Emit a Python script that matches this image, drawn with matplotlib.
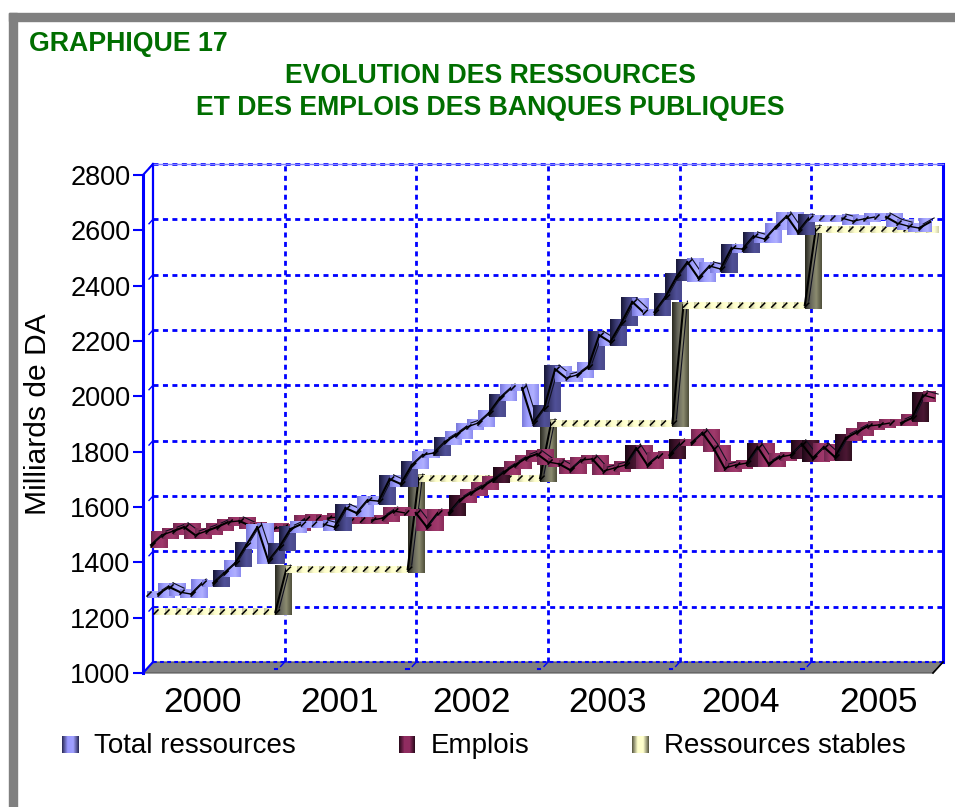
import numpy as np
import matplotlib
matplotlib.use("Agg")
import matplotlib.pyplot as plt
from matplotlib.colors import LinearSegmentedColormap
from matplotlib.patches import Polygon, Rectangle

plt.rcParams['font.family'] = ['Liberation Sans', 'DejaVu Sans']

# monthly values, Milliards de DA, 2000-2005
total_ressources = [
    1278, 1278, 1304, 1285, 1278, 1318, 1318, 1354, 1390, 1455, 1520, 1398,
    1448, 1513, 1531, 1531, 1531, 1520, 1589, 1571, 1618, 1614, 1694, 1676,
    1744, 1781, 1788, 1828, 1853, 1882, 1896, 1932, 1987, 2023, 2023, 1896,
    1950, 2091, 2059, 2070, 2099, 2214, 2189, 2258, 2334, 2297, 2297, 2352,
    2424, 2478, 2420, 2464, 2453, 2529, 2525, 2572, 2561, 2605, 2644, 2587,
    2637, 2637, 2637, 2637, 2626, 2634, 2641, 2641, 2619, 2608, 2601, 2623]
emplois = [
    1441, 1477, 1491, 1506, 1477, 1491, 1506, 1524, 1528, 1510, 1502, 1499,
    1506, 1506, 1535, 1538, 1538, 1542, 1528, 1531, 1531, 1538, 1564, 1557,
    1557, 1506, 1557, 1557, 1604, 1629, 1651, 1676, 1705, 1730, 1755, 1770,
    1741, 1734, 1712, 1748, 1752, 1708, 1719, 1730, 1791, 1730, 1763, 1766,
    1810, 1810, 1846, 1791, 1719, 1730, 1737, 1795, 1734, 1759, 1766, 1806,
    1755, 1795, 1759, 1828, 1849, 1871, 1875, 1882, 1882, 1900, 1983, 1972]
ressources_stables = [1188] * 12 + [1343] * 12 + [1672] * 12 + [1871] * 12 + [2297] * 12 + [2572] * 12

annees = ['2000', '2001', '2002', '2003', '2004', '2005']
yticks = [1000, 1200, 1400, 1600, 1800, 2000, 2200, 2400, 2600, 2800]

# segments drawn in the dark shade
dark_total = [6, 8, 11, 12, 17, 21, 23, 26, 31, 35, 36, 40, 42, 43, 46, 47, 48, 52, 54, 59]
dark_emplois = [27, 31, 43, 47, 54, 58, 59, 62, 69]
dark_stables = [11, 23, 35, 47, 59]

BLUE = '#0000ff'
GREEN = '#006e00'
W, H = 955, 807
PX_X = 1 / 11.03   # months per pixel
PX_Y = 3.614       # DA per pixel
DASH = (0, (1.8, 1.6))


def cmap(*cols):
    return LinearSegmentedColormap.from_list('c', cols)


def ribbon(ax, values, dark, dx, dy, light_map, dark_map, z):
    xs = np.arange(len(values)) + dx * PX_X
    ys = np.array(values) + dy * PX_Y
    grad = np.linspace(0, 1, 32).reshape(1, -1)
    n = len(values) - 1
    for i in range(n):
        x0, x1 = xs[i], xs[i + 1]
        y0, y1 = ys[i], ys[i + 1]
        lo, hi = min(y0, y1) - 3.5 * PX_Y, max(y0, y1) + 3.5 * PX_Y
        cm = dark_map if i in dark else light_map
        width = 13 if i == n - 1 else 16.5
        ax.imshow(grad, extent=[x0, x0 + width * PX_X, lo, hi], cmap=cm, aspect='auto',
                  interpolation='bilinear', clip_on=False, zorder=z + i * 0.001)
        zl = z + i * 0.001 + 0.0005
        jump = abs(y1 - y0) / PX_Y
        if jump > 1:
            ax.plot([x0, x1], [y0, y1], color='black', lw=1.5 if jump > 4 else 1, clip_on=False, zorder=zl)
        if jump > 3:
            ax.plot([x0 + 4 * PX_X, x1 + 4 * PX_X], [y0 + 4 * PX_Y, y1 + 4 * PX_Y],
                    color='#101020', lw=0.8, clip_on=False, zorder=zl)
        ax.plot([x0, x0 + 4 * PX_X], [y0 - 2 * PX_Y, y0 + 2 * PX_Y],
                color='black', lw=1.1, clip_on=False, zorder=zl)


fig = plt.figure(figsize=(W / 100, H / 100), dpi=100)
ax = fig.add_axes([143 / W, 1 - 673 / H, 790 / W, 498 / H])
xlim = (-0.363, 71.26)
ylim = (1000, 2800)

# page border
fig.add_artist(Rectangle((9 / W, 0), 8 / W, 1 - 13 / H, color='#808080', transform=fig.transFigure))
fig.add_artist(Rectangle((9 / W, 1 - 21 / H), 946 / W, 8 / H, color='#808080', transform=fig.transFigure))

# depth of the 3D box, 10 px right and 11 px up
bx, by = 10 * PX_X, 11 * PX_Y
ax.add_patch(Polygon([(xlim[0], 1000), (xlim[1], 1000), (xlim[1] + bx, 1000 + by), (xlim[0] + bx, 1000 + by)],
                     closed=True, facecolor='#808080', edgecolor='#555555', lw=0.8, clip_on=False, zorder=1))
for v in yticks[1:]:
    ax.plot([xlim[0] + bx, xlim[1] + bx], [v + by, v + by], color=BLUE, lw=2, ls=DASH,
            clip_on=False, zorder=1.5)
    ax.plot([xlim[0] + bx * 0.6, xlim[0] + bx], [v + by * 0.6, v + by], color=BLUE, lw=1, clip_on=False, zorder=1.5)
for k in range(1, 6):
    xk = xlim[0] + 12 * k * (xlim[1] - xlim[0]) / 72
    ax.plot([xk + bx, xk + bx], [1000 + by, 2800 + by], color=BLUE, lw=2, ls=DASH,
            clip_on=False, zorder=1.5)
    ax.plot([xk + bx * 0.6, xk + bx], [1000 + by * 0.6, 1000 + by], color=BLUE, lw=1, clip_on=False, zorder=1.5)
    ax.plot([xk, xk + bx * 0.25], [1000 + by * 0.4, 1000 + by * 0.4], color=BLUE, lw=1.5, clip_on=False, zorder=1.5)
ax.plot([xlim[0] + bx, xlim[1] + bx], [1000 + by, 1000 + by], color=BLUE, lw=1.5, ls=DASH,
        clip_on=False, zorder=1.6)
ax.plot([xlim[0] + bx, xlim[0] + bx], [1000 + by, 2800 + by], color=BLUE, lw=1.6, clip_on=False, zorder=1.6)
ax.plot([xlim[1] + bx, xlim[1] + bx], [1000 + by, 2800 + by], color=BLUE, lw=2.2, clip_on=False, zorder=1.6)
ax.plot([xlim[0] + bx, xlim[1] + bx], [2800 + by, 2800 + by], color='#8080ff', lw=1, clip_on=False, zorder=1.6)
ax.plot([xlim[0], xlim[0] + bx], [2800, 2800 + by], color=BLUE, lw=1.5, clip_on=False, zorder=1.6)
ax.plot([xlim[0], xlim[0] + bx], [1000, 1000 + by], color=BLUE, lw=1.5, clip_on=False, zorder=1.6)
ax.plot([xlim[1], xlim[1] + bx], [1000, 1000 + by], color='black', lw=1.2, clip_on=False, zorder=1.6)

blue_light = cmap('#7878d8', '#a0a0ff', '#b0b0ff', '#8c8cf0')
blue_dark = cmap('#181838', '#383870', '#505098', '#4a4a8c')
red_light = cmap('#702850', '#993366', '#a03a6c', '#8a2c5a')
red_dark = cmap('#1c0814', '#3a1028', '#4c1834', '#30101f')
yel_light = cmap('#c8c8a0', '#ffffcc', '#ffffd8', '#d0d0a8')
yel_dark = cmap('#2a2a20', '#66665a', '#8c8c70', '#50503c')

ribbon(ax, ressources_stables, dark_stables, 7, 9, yel_light, yel_dark, 2)
ribbon(ax, emplois, dark_emplois, 4, 6, red_light, red_dark, 3)
ribbon(ax, total_ressources, dark_total, 0, 2, blue_light, blue_dark, 4)

ax.set_xlim(xlim)
ax.set_ylim(ylim)
ax.set_yticks(yticks)
ax.set_xticks([5.04, 17.44, 29.44, 41.74, 53.84, 66.34])
ax.set_xticklabels(annees)
ax.tick_params(axis='y', labelsize=19.5, length=7, width=1.5, color=BLUE, pad=2)
ax.tick_params(axis='x', labelsize=25.5, length=0, pad=9)
for s in ['top', 'right', 'bottom']:
    ax.spines[s].set_visible(False)
ax.spines['left'].set_color(BLUE)
ax.spines['left'].set_linewidth(2.2)
ax.patch.set_visible(False)

fig.text(38 / W, 1 - 414 / H, 'Milliards de DA', fontsize=21.6, rotation=90, ha='center', va='center')
fig.text(29 / W, 1 - 44 / H, 'GRAPHIQUE 17', color=GREEN, fontsize=19.3, fontweight='bold', va='center')
fig.text(490 / W, 1 - 76 / H, 'EVOLUTION DES RESSOURCES', color=GREEN, fontsize=19.2, fontweight='bold',
         ha='center', va='center')
fig.text(490 / W, 1 - 108 / H, 'ET DES EMPLOIS DES BANQUES PUBLIQUES', color=GREEN, fontsize=19.2,
         fontweight='bold', ha='center', va='center')

# legend
grad = np.linspace(0, 1, 16).reshape(1, -1)
legend_maps = [cmap('#303060', '#9898ff', '#a0a0ff', '#303060'),
               cmap('#300c20', '#902c60', '#902c60', '#300c20'),
               cmap('#606048', '#ffffcc', '#ffffcc', '#606048')]
for x, label, cm in zip([62, 399, 632], ['Total ressources', 'Emplois', 'Ressources stables'], legend_maps):
    lax = fig.add_axes([x / W, 1 - 753 / H, 16 / W, 17 / H])
    lax.imshow(grad, cmap=cm, aspect='auto')
    lax.set_xticks([])
    lax.set_yticks([])
    for s in lax.spines.values():
        s.set_visible(False)
    fig.text((x + 32) / W, 1 - 746 / H, label, fontsize=20, va='center')

fig.savefig('out.png', dpi=100)
